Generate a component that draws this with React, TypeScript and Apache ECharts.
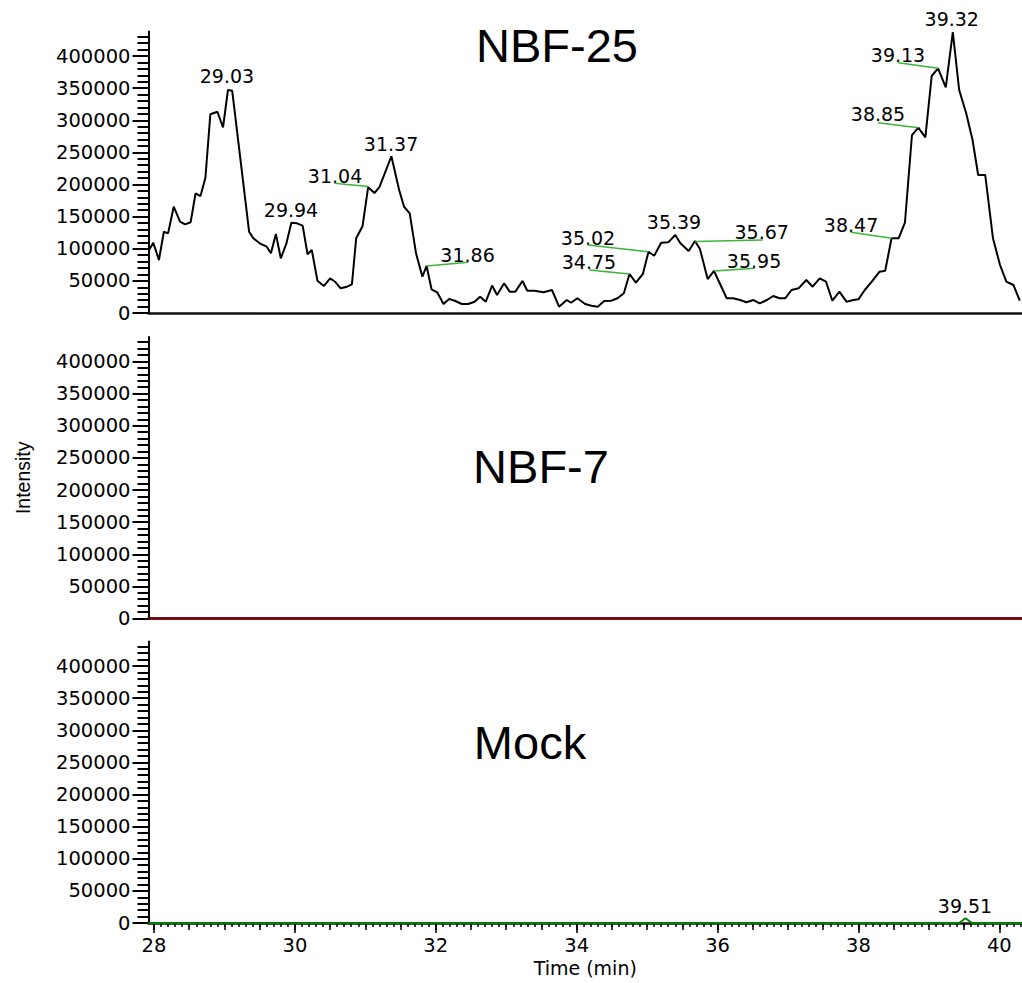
import React, { useEffect, useRef } from "react";
import * as echarts from "echarts";

// ---- axis ranges ----
const X_MIN = 27.922;
const X_MAX = 40.322;
const Y_MAX = 438000;

// ---- NBF-25 trace ----
const nbf25Time = [
  27.93, 27.99, 28.07, 28.14, 28.2, 28.28, 28.37, 28.44, 28.52, 28.59,
  28.66, 28.73, 28.8, 28.9, 28.98, 29.05, 29.11, 29.35, 29.41, 29.5,
  29.6, 29.66, 29.73, 29.8, 29.88, 29.95, 30.03, 30.11, 30.18, 30.24,
  30.32, 30.41, 30.5, 30.57, 30.65, 30.74, 30.81, 30.87, 30.96, 31.04,
  31.13, 31.2, 31.37, 31.48, 31.55, 31.63, 31.72, 31.81, 31.87, 31.94,
  32.02, 32.11, 32.19, 32.27, 32.37, 32.46, 32.55, 32.63, 32.71, 32.8,
  32.87, 32.97, 33.05, 33.13, 33.23, 33.3, 33.4, 33.53, 33.65, 33.75,
  33.86, 33.92, 34.01, 34.12, 34.21, 34.3, 34.39, 34.49, 34.58, 34.67,
  34.75, 34.84, 34.94, 35.02, 35.1, 35.2, 35.3, 35.4, 35.47, 35.59,
  35.68, 35.75, 35.86, 35.95, 36.13, 36.22, 36.32, 36.41, 36.51, 36.6,
  36.7, 36.79, 36.88, 36.96, 37.05, 37.15, 37.26, 37.35, 37.45, 37.54,
  37.63, 37.73, 37.83, 37.93, 38.0, 38.09, 38.19, 38.3, 38.38, 38.47,
  38.57, 38.66, 38.76, 38.85, 38.95, 39.04, 39.13, 39.24, 39.34, 39.43,
  39.53, 39.62, 39.7, 39.8, 39.91, 40.01, 40.1, 40.2, 40.29,
];
const nbf25Intensity = [
  98000, 109400, 82500, 126500, 124000, 165500, 142100, 138000, 141200, 186300,
  182100, 210600, 309300, 313300, 289000, 347100, 346000, 126500, 116300, 108500,
  103200, 92900, 123000, 85100, 108500, 140500, 139600, 135900, 91400, 98100,
  50300, 42000, 54000, 48700, 38400, 40900, 44700, 116300, 134900, 195800,
  186800, 195800, 244000, 191400, 165400, 155200, 92900, 56500, 73200, 36900,
  32200, 14000, 21800, 19100, 14000, 14000, 17600, 25400, 17600, 42800,
  28000, 46200, 33200, 33200, 49800, 34700, 34700, 32200, 35800, 9800,
  20200, 16000, 22900, 14000, 11400, 9800, 18700, 19100, 22900, 30700,
  60700, 47200, 60700, 95400, 89200, 109400, 110000, 121400, 108900, 96500,
  112100, 99600, 52900, 65400, 22900, 22900, 20200, 16700, 20200, 15100,
  20200, 26500, 22900, 22900, 35800, 38400, 51400, 40900, 54000, 48700,
  19100, 33200, 17600, 20200, 21300, 35800, 48700, 64300, 65800, 116300,
  116300, 140500, 277000, 288400, 273500, 368900, 380800, 351300, 437000, 347100,
  310800, 269300, 214800, 214800, 116300, 74700, 48700, 43600, 19100,
];

// ---- NBF-7 trace (flat) ----
const nbf7Time = [27.922, 40.322];
const nbf7Intensity = [0, 0];

// ---- Mock trace ----
const mockTime = [27.922, 39.43, 39.52, 39.61, 40.322];
const mockIntensity = [0, 0, 7300, 0, 0];

// ---- peak labels (NBF-25) ----
const peakNames = [
  "29.03", "29.94", "31.04", "31.37", "31.86", "35.02", "34.75",
  "35.39", "35.67", "35.95", "38.47", "38.85", "39.13", "39.32",
];
const peakLabelTime = [
  29.036, 29.945, 30.57, 31.365, 32.451, 34.161, 34.175,
  35.382, 36.627, 36.518, 37.895, 38.278, 38.562, 39.325,
];
const peakLabelIntensity = [
  368900, 160300, 214000, 263500, 90300, 116700, 79400,
  140900, 125300, 80900, 137000, 309700, 401500, 457600,
];

// ---- green leader lines (peak apex -> label) ----
const leaderFromTime = [31.043, 31.871, 35.017, 34.748, 35.681, 35.95, 38.473, 38.85, 39.134];
const leaderFromIntensity = [196900, 73150, 95400, 60700, 111300, 65400, 116300, 288400, 380800];
const leaderToTime = [30.56, 32.462, 34.157, 34.18, 36.641, 36.532, 37.891, 38.274, 38.566];
const leaderToIntensity = [201900, 78900, 105800, 66900, 113600, 69600, 125600, 296200, 389600];

// ---- Mock peak label ----
const mockPeakNames = ["39.51"];
const mockLabelTime = [39.513];
const mockLabelIntensity = [27200];

// ---- tick labels ----
const yTickValues = [0, 50000, 100000, 150000, 200000, 250000, 300000, 350000, 400000];
const xTickValues = [28, 30, 32, 34, 36, 38, 40];

const panelTitles = ["NBF-25", "NBF-7", "Mock"];

const NUM_FONT = "'DejaVu Sans', sans-serif";
const SANS = "'Liberation Sans', Arial, sans-serif";

function range(start: number, end: number, step: number, dec: number) {
  const out: number[] = [];
  const n = Math.round((end - start) / step);
  for (let i = 0; i <= n; i++) out.push(Number((start + i * step).toFixed(dec)));
  return out;
}

export default function App() {
  const ref = useRef<HTMLDivElement>(null);
  useEffect(() => {
    if (!ref.current) return;
    const chart = echarts.init(ref.current, undefined, { renderer: "svg" });

    const yMinorTicks = range(0, 430000, 10000, 0);
    const xHalfTicks = range(28, 40, 0.5, 1);
    const xTenthTicks = range(28, 40.3, 0.1, 1);

    const grids = [
      { left: 148.5, right: 0, top: 31.6, height: 281.4 },
      { left: 148.5, right: 0, top: 337.1, height: 281.4 },
      { left: 148.5, right: 0, top: 641.6, height: 281.4 },
    ];

    const baseX = (gi: number) => ({
      type: "value",
      gridIndex: gi,
      min: X_MIN,
      max: X_MAX,
      splitLine: { show: false },
      axisLine: { show: true, onZero: false, lineStyle: { color: "#111", width: 2.5 } },
      axisTick: { show: false },
      axisLabel: { show: false },
    });

    const xAxes: any[] = [
      baseX(0),
      baseX(1),
      {
        ...baseX(2),
        axisTick: {
          show: true,
          customValues: xTickValues,
          length: 10,
          lineStyle: { color: "#000", width: 1.5 },
        },
        axisLabel: {
          show: true,
          customValues: xTickValues,
          formatter: (v: number) => String(v),
          margin: 12,
          fontFamily: NUM_FONT,
          fontSize: 19.5,
          color: "#000",
        },
        name: "Time (min)",
        nameLocation: "middle",
        nameGap: 35,
        nameTextStyle: { fontFamily: NUM_FONT, fontSize: 19, color: "#000" },
      },
      {
        type: "value",
        gridIndex: 2,
        position: "bottom",
        offset: 0,
        min: X_MIN,
        max: X_MAX,
        splitLine: { show: false },
        axisLine: { show: false },
        axisLabel: { show: false },
        axisTick: { show: true, customValues: xHalfTicks, length: 7, lineStyle: { color: "#000", width: 1.5 } },
      },
      {
        type: "value",
        gridIndex: 2,
        position: "bottom",
        offset: 0,
        min: X_MIN,
        max: X_MAX,
        splitLine: { show: false },
        axisLine: { show: false },
        axisLabel: { show: false },
        axisTick: { show: true, customValues: xTenthTicks, length: 4, lineStyle: { color: "#000", width: 1.5 } },
      },
    ];

    const mainY = (gi: number) => ({
      type: "value",
      gridIndex: gi,
      position: "left",
      min: 0,
      max: Y_MAX,
      splitLine: { show: false },
      axisLine: { show: true, onZero: false, lineStyle: { color: "#000", width: 2 } },
      axisTick: { show: true, customValues: yTickValues, length: 16, lineStyle: { color: "#000", width: 2 } },
      axisLabel: {
        show: true,
        customValues: yTickValues,
        formatter: (v: number) => String(v),
        margin: 18,
        fontFamily: NUM_FONT,
        fontSize: 19.5,
        color: "#000",
      },
    });
    const minorY = (gi: number) => ({
      type: "value",
      gridIndex: gi,
      position: "left",
      offset: 0,
      min: 0,
      max: Y_MAX,
      splitLine: { show: false },
      axisLine: { show: false },
      axisLabel: { show: false },
      axisTick: { show: true, customValues: yMinorTicks, length: 11, lineStyle: { color: "#000", width: 2 } },
    });

    const yAxes: any[] = [
      mainY(0),
      {
        ...mainY(1),
        name: "Intensity",
        nameLocation: "middle",
        nameRotate: 90,
        nameGap: 116,
        nameTextStyle: { fontFamily: SANS, fontSize: 19.5, color: "#000" },
      },
      mainY(2),
      minorY(0),
      minorY(1),
      minorY(2),
    ];

    const zip = (a: number[], b: number[]) => a.map((t, i) => [t, b[i]]);

    const labelStyle = {
      show: true,
      position: "inside",
      formatter: "{b}",
      fontFamily: NUM_FONT,
      fontSize: 19,
      color: "#000",
      opacity: 1,
      textBorderWidth: 0,
    };

    const option: any = {
      animation: false,
      backgroundColor: "#fff",
      grid: grids,
      xAxis: xAxes,
      yAxis: yAxes,
      graphic: [
        { type: "text", x: 557, y: 45, style: { text: panelTitles[0], font: `47px ${SANS}`, fill: "#000", align: "center", verticalAlign: "middle" } },
        { type: "text", x: 541, y: 466, style: { text: panelTitles[1], font: `47px ${SANS}`, fill: "#000", align: "center", verticalAlign: "middle" } },
        { type: "text", x: 530, y: 742, style: { text: panelTitles[2], font: `47px ${SANS}`, fill: "#000", align: "center", verticalAlign: "middle" } },
      ],
      series: [
        {
          type: "line",
          name: "NBF-25",
          xAxisIndex: 0,
          yAxisIndex: 0,
          data: zip(nbf25Time, nbf25Intensity),
          symbol: "none",
          clip: false,
          lineStyle: { color: "#000", width: 2 },
          itemStyle: { color: "#000" },
          markLine: {
            silent: true,
            symbol: ["none", "none"],
            label: { show: false },
            lineStyle: { color: "#3cb43c", width: 1.5, type: "solid" },
            emphasis: { disabled: true },
            data: leaderFromTime.map((t, i) => [
              { coord: [t, leaderFromIntensity[i]] },
              { coord: [leaderToTime[i], leaderToIntensity[i]] },
            ]),
          },
        },
        {
          type: "scatter",
          name: "NBF-25 peaks",
          xAxisIndex: 0,
          yAxisIndex: 0,
          clip: false,
          symbolSize: 1,
          itemStyle: { color: "rgba(255,255,255,0)" },
          label: labelStyle,
          data: peakNames.map((n, i) => ({ name: n, value: [peakLabelTime[i], peakLabelIntensity[i]] })),
        },
        {
          type: "line",
          name: "NBF-7",
          xAxisIndex: 1,
          yAxisIndex: 1,
          data: zip(nbf7Time, nbf7Intensity),
          symbol: "none",
          lineStyle: { color: "#800000", width: 2.5 },
          itemStyle: { color: "#800000" },
        },
        {
          type: "line",
          name: "Mock",
          xAxisIndex: 2,
          yAxisIndex: 2,
          data: zip(mockTime, mockIntensity),
          symbol: "none",
          lineStyle: { color: "#008000", width: 2 },
          itemStyle: { color: "#008000" },
        },
        {
          type: "scatter",
          name: "Mock peaks",
          xAxisIndex: 2,
          yAxisIndex: 2,
          clip: false,
          symbolSize: 1,
          itemStyle: { color: "rgba(255,255,255,0)" },
          label: labelStyle,
          data: mockPeakNames.map((n, i) => ({ name: n, value: [mockLabelTime[i], mockLabelIntensity[i]] })),
        },
      ],
    };

    chart.setOption(option);
    return () => chart.dispose();
  }, []);

  return (
    <div
      ref={ref}
      style={{ position: "fixed", left: 0, top: 0, width: 1022, height: 983, background: "#fff" }}
    />
  );
}
